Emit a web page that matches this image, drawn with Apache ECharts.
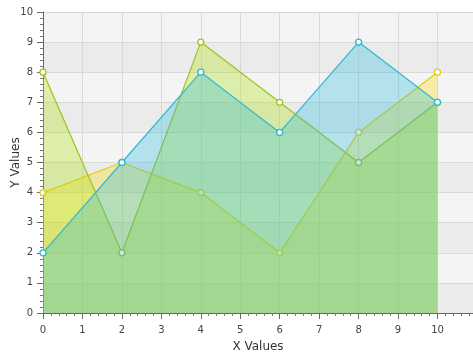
<!DOCTYPE html>
<html>
<head>
<meta charset="utf-8">
<script src="https://cdn.jsdelivr.net/npm/echarts@6/dist/echarts.min.js"></script>
<style>
html,body{margin:0;padding:0;background:#fff;}
#chart{width:473px;height:355px;}
</style>
</head>
<body>
<div id="chart"></div>
<script>
var xValues = [0, 2, 4, 6, 8, 10];
var series1 = [4, 5, 4, 2, 6, 8];
var series2 = [8, 2, 9, 7, 5, 7];
var series3 = [2, 5, 8, 6, 9, 7];
var seriesNames = ['Series 1', 'Series 2', 'Series 3'];
var lineColors = ['#e8cc10', '#9cc41c', '#2fb8d4'];
var fillColors = ['rgba(249,217,0,0.3)', 'rgba(169,226,0,0.3)', 'rgba(34,186,217,0.3)'];
var xTitle = 'X Values';
var yTitle = 'Y Values';

function pairs(ys){ return xValues.map(function(x,i){ return [x, ys[i]]; }); }
var allSeries = [series1, series2, series3];

var chart = echarts.init(document.getElementById('chart'));
var axisCommon = {
  type: 'value',
  interval: 1,
  nameLocation: 'middle',
  nameTextStyle: {color: '#333', fontSize: 12, fontFamily: 'DejaVu Sans'},
  axisLine: {show: true, lineStyle: {color: '#666', width: 1}},
  axisTick: {show: true, length: 6, lineStyle: {color: '#666'}},
  minorTick: {show: true, splitNumber: 5, length: 3, lineStyle: {color: '#777'}},
  axisLabel: {color: '#444', fontSize: 10, fontFamily: 'DejaVu Sans',
    formatter: function(v){ return (Math.abs(v - Math.round(v)) < 1e-6) ? String(Math.round(v)) : ''; }},
  splitLine: {show: true, lineStyle: {color: '#d9d9d9', width: 1}}
};
chart.setOption({
  animation: false,
  backgroundColor: '#ffffff',
  grid: {left: 43, right: 0, top: 12, bottom: 42, containLabel: false, outerBoundsMode: 'none'},
  xAxis: Object.assign({}, axisCommon, {
    min: 0, max: 10.9, name: xTitle, nameGap: 28,
    axisLabel: Object.assign({}, axisCommon.axisLabel, {margin: 12})
  }),
  yAxis: Object.assign({}, axisCommon, {
    min: 0, max: 10, name: yTitle, nameGap: 21, nameMoveOverlap: false,
    axisLabel: Object.assign({}, axisCommon.axisLabel, {margin: 10}),
    splitArea: {show: true, areaStyle: {color: ['#ebebeb', '#f4f4f4']}}
  }),
  series: allSeries.map(function(ys, i){
    return {
      name: seriesNames[i],
      type: 'line',
      z: 2 + i,
      data: pairs(ys),
      clip: true,
      symbol: 'circle',
      symbolSize: 6,
      lineStyle: {color: lineColors[i], width: 1.2},
      itemStyle: {color: '#ffffff', borderColor: lineColors[i], borderWidth: 1.3},
      areaStyle: {color: fillColors[i], opacity: 1}
    };
  })
});
</script>
</body>
</html>
